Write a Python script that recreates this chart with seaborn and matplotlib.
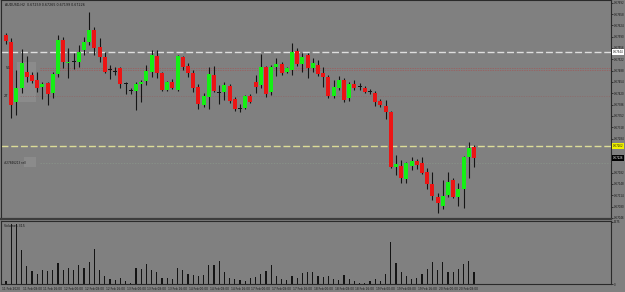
import numpy as np
import pandas as pd
import matplotlib
matplotlib.use("Agg")
import matplotlib.pyplot as plt
from matplotlib.patches import Rectangle
import seaborn as sns

# Chart header
SYMBOL = "AUDUSD,H2"

# OHLC per bar
opens = [0.67595, 0.67574, 0.67394, 0.67436, 0.67484, 0.67475, 0.67460, 0.67439, 0.67451, 0.67421,
         0.67478, 0.67580, 0.67511, 0.67514, 0.67514, 0.67550, 0.67574, 0.67610, 0.67559, 0.67529,
         0.67490, 0.67484, 0.67496, 0.67448, 0.67427, 0.67427, 0.67448, 0.67457, 0.67484, 0.67532,
         0.67481, 0.67430, 0.67454, 0.67430, 0.67529, 0.67502, 0.67481, 0.67439, 0.67385, 0.67409,
         0.67475, 0.67421, 0.67424, 0.67442, 0.67403, 0.67373, 0.67376, 0.67412, 0.67454, 0.67445,
         0.67499, 0.67424, 0.67499, 0.67508, 0.67484, 0.67490, 0.67547, 0.67508, 0.67535, 0.67496,
         0.67505, 0.67481, 0.67469, 0.67412, 0.67436, 0.67460, 0.67406, 0.67448, 0.67439, 0.67436,
         0.67424, 0.67421, 0.67397, 0.67382, 0.67364, 0.67199, 0.67202, 0.67163, 0.67202, 0.67217,
         0.67211, 0.67184, 0.67148, 0.67109, 0.67082, 0.67115, 0.67160, 0.67109, 0.67133, 0.67229,
         0.67259]
highs = [0.67601, 0.67586, 0.67490, 0.67553, 0.67532, 0.67484, 0.67484, 0.67454, 0.67454, 0.67484,
         0.67595, 0.67589, 0.67556, 0.67541, 0.67565, 0.67589, 0.67664, 0.67619, 0.67586, 0.67544,
         0.67505, 0.67499, 0.67499, 0.67454, 0.67436, 0.67454, 0.67460, 0.67505, 0.67550, 0.67550,
         0.67484, 0.67457, 0.67463, 0.67535, 0.67532, 0.67511, 0.67490, 0.67448, 0.67421, 0.67499,
         0.67502, 0.67445, 0.67454, 0.67448, 0.67409, 0.67388, 0.67415, 0.67418, 0.67475, 0.67538,
         0.67502, 0.67505, 0.67526, 0.67514, 0.67499, 0.67571, 0.67556, 0.67541, 0.67541, 0.67526,
         0.67520, 0.67499, 0.67475, 0.67460, 0.67472, 0.67466, 0.67454, 0.67460, 0.67451, 0.67442,
         0.67433, 0.67427, 0.67403, 0.67400, 0.67367, 0.67235, 0.67220, 0.67214, 0.67229, 0.67223,
         0.67229, 0.67196, 0.67184, 0.67121, 0.67160, 0.67184, 0.67166, 0.67151, 0.67232, 0.67274,
         0.67265]
lows = [0.67568, 0.67346, 0.67355, 0.67421, 0.67454, 0.67451, 0.67424, 0.67403, 0.67385, 0.67406,
        0.67469, 0.67496, 0.67466, 0.67493, 0.67499, 0.67535, 0.67565, 0.67535, 0.67514, 0.67481,
        0.67463, 0.67475, 0.67436, 0.67418, 0.67418, 0.67370, 0.67394, 0.67445, 0.67469, 0.67466,
        0.67427, 0.67427, 0.67433, 0.67427, 0.67490, 0.67469, 0.67424, 0.67373, 0.67379, 0.67373,
        0.67424, 0.67388, 0.67400, 0.67391, 0.67367, 0.67364, 0.67373, 0.67391, 0.67421, 0.67436,
        0.67409, 0.67415, 0.67472, 0.67475, 0.67481, 0.67475, 0.67502, 0.67484, 0.67466, 0.67484,
        0.67472, 0.67439, 0.67406, 0.67406, 0.67430, 0.67394, 0.67397, 0.67430, 0.67430, 0.67421,
        0.67418, 0.67382, 0.67379, 0.67343, 0.67196, 0.67175, 0.67151, 0.67151, 0.67190, 0.67193,
        0.67178, 0.67133, 0.67100, 0.67061, 0.67073, 0.67109, 0.67106, 0.67082, 0.67076, 0.67166,
        0.67199]
closes = [0.67577, 0.67385, 0.67436, 0.67511, 0.67469, 0.67457, 0.67436, 0.67448, 0.67418, 0.67478,
          0.67580, 0.67514, 0.67514, 0.67515, 0.67544, 0.67574, 0.67610, 0.67556, 0.67529, 0.67484,
          0.67489, 0.67485, 0.67448, 0.67447, 0.67428, 0.67448, 0.67454, 0.67487, 0.67535, 0.67481,
          0.67430, 0.67454, 0.67436, 0.67532, 0.67499, 0.67481, 0.67436, 0.67388, 0.67412, 0.67478,
          0.67427, 0.67420, 0.67445, 0.67397, 0.67373, 0.67374, 0.67412, 0.67394, 0.67439, 0.67499,
          0.67418, 0.67499, 0.67508, 0.67481, 0.67496, 0.67544, 0.67508, 0.67529, 0.67496, 0.67511,
          0.67478, 0.67469, 0.67412, 0.67439, 0.67460, 0.67400, 0.67448, 0.67436, 0.67438, 0.67424,
          0.67423, 0.67394, 0.67385, 0.67364, 0.67199, 0.67208, 0.67166, 0.67211, 0.67217, 0.67205,
          0.67181, 0.67148, 0.67112, 0.67091, 0.67112, 0.67154, 0.67109, 0.67133, 0.67229, 0.67256,
          0.67226]
volumes = [85, 1520, 1525, 875, 450, 335, 265, 350, 335, 365,
           535, 350, 415, 350, 470, 400, 565, 890, 365, 210,
           115, 100, 140, 65, 35, 410, 390, 500, 350, 300,
           140, 140, 115, 400, 350, 265, 225, 200, 240, 470,
           475, 585, 300, 140, 125, 100, 85, 140, 185, 265,
           325, 470, 200, 115, 100, 200, 165, 285, 300, 300,
           200, 185, 200, 135, 100, 235, 135, 85, 20, 35,
           65, 135, 85, 250, 1060, 535, 300, 200, 135, 150,
           265, 385, 560, 350, 565, 300, 300, 385, 500, 575,
           315]

# time axis labels (every 4th bar)
date_tick_bars = [0, 4, 8, 12, 16, 20, 24, 28, 32, 36, 40, 44, 48, 52, 56, 60, 64, 68, 72, 76, 80, 84, 88]
date_labels = ["11 Feb 2020", "11 Feb 08:00", "11 Feb 16:00", "12 Feb 00:00", "12 Feb 08:00",
               "12 Feb 16:00", "13 Feb 00:00", "13 Feb 08:00", "13 Feb 16:00", "14 Feb 00:00",
               "14 Feb 08:00", "14 Feb 16:00", "17 Feb 00:00", "17 Feb 08:00", "17 Feb 16:00",
               "18 Feb 00:00", "18 Feb 08:00", "18 Feb 16:00", "19 Feb 00:00", "19 Feb 08:00",
               "19 Feb 16:00", "20 Feb 00:00", "20 Feb 08:00"]

price_ticks = [0.67692, 0.67658, 0.67624, 0.67590, 0.67556, 0.67522, 0.67488, 0.67454, 0.67420,
               0.67386, 0.67352, 0.67318, 0.67284, 0.67182, 0.67148, 0.67114, 0.67080, 0.67046]

# horizontal levels drawn on the chart
level_white = 0.67544
levels_red = [0.67496, 0.67489]
level_red_low = 0.67412
level_yellow = 0.67262
level_order = 0.67211

BG = "#808080"
BULL = "#14f014"
BEAR = "#ec1414"
INK = "#141414"

sns.set_theme(style="white", rc={"axes.facecolor": BG, "figure.facecolor": BG,
                                 "savefig.facecolor": BG})
plt.rcParams["font.family"] = ["DejaVu Sans"]

W, H = 625, 292
fig = plt.figure(figsize=(W / 100, H / 100), dpi=100)

x0 = 1 / W
wx = 610 / W
ax = fig.add_axes([x0, 73 / H, wx, 219 / H])
vax = fig.add_axes([x0, 8 / H, wx, 63 / H])

df = pd.DataFrame({"o": opens, "h": highs, "l": lows, "c": closes, "v": volumes})
df["bar"] = np.arange(len(df))
xlim = (-0.96, -0.96 + 610 / 5.2)

# light panel behind the trade labels
fig.patches.append(Rectangle((17 / W, 1 - 102 / H), 19 / W, 40 / H, transform=fig.transFigure,
                             facecolor="#8b8b8b", edgecolor="none", zorder=0.5))
fig.patches.append(Rectangle((24 / W, 1 - 167 / H), 12 / W, 10 / H, transform=fig.transFigure,
                             facecolor="#8b8b8b", edgecolor="none", zorder=0.5))
ax.set_zorder(1)
ax.patch.set_alpha(0)

# price levels
ax.axhline(level_white, color="#dedede", lw=1.0, ls=(0, (5, 2)), zorder=1)
for lv in levels_red:
    ax.axhline(lv, xmin=39 / 610, color="#a05a5a", lw=0.5, ls=(0, (2, 1.5)), zorder=1)
ax.axhline(level_red_low, xmin=19 / 610, color="#8e6a6a", lw=0.5, ls=(0, (2, 1.5)), zorder=1)
ax.axhline(level_yellow, color="#dcdc98", lw=1.0, ls=(0, (5, 2)), zorder=1)
ax.axhline(level_order, xmin=39 / 610, color="#8a968a", lw=0.5, ls=(0, (2, 2)), zorder=1)

# candles
ax.vlines(df["bar"], df["l"], df["h"], color=INK, lw=0.8, zorder=2)
body_lo = np.minimum(df["o"], df["c"])
body_h = (df["c"] - df["o"]).abs()
doji = body_h < 0.000025
colors = np.where(df["c"] >= df["o"], BULL, BEAR)
colors = np.where(doji, INK, colors)
body_h = np.where(doji, 0.00003, body_h)
ax.bar(df["bar"], body_h, bottom=body_lo, width=0.78, color=colors, linewidth=0, zorder=3)

ax.set_xlim(*xlim)
ax.set_ylim(0.67043, 0.67700)
ax.set_xticks([])
ax.yaxis.tick_right()
ax.set_yticks(price_ticks)
ax.set_yticklabels([f"{p:.5f}" for p in price_ticks])
ax.tick_params(axis="y", labelsize=1.9, length=1.5, width=0.5, pad=0.6, colors=INK)
for side, sp in ax.spines.items():
    sp.set_color("#2a2a2a")
    sp.set_linewidth(0.8)
    sp.set_visible(True)
ax.spines["bottom"].set_color("#3c3c3c")
ax.spines["bottom"].set_linewidth(1.6)

# axis price boxes
box = dict(boxstyle="square,pad=0.2", linewidth=0)
for lv, face, ink in [(level_white, "white", INK), (level_yellow, "#f0f000", INK),
                      (closes[-1], "black", "white")]:
    ax.annotate(f"{lv:.5f}", xy=(1.0, lv), xycoords=("axes fraction", "data"),
                xytext=(1.2, 0), textcoords="offset points", fontsize=1.9, va="center",
                ha="left", color=ink, bbox={**box, "facecolor": face}, annotation_clip=False)

# header and trade labels
ax.text(4 / 610, 1 - 5 / 219, f"{SYMBOL}  {opens[-1]:.5f} {highs[-1]:.5f} {lows[-1]:.5f} {closes[-1]:.5f}",
        transform=ax.transAxes, fontsize=2.3, color=INK, va="center", ha="left")
ax.text(5 / 610, levels_red[0], "56", transform=ax.get_yaxis_transform(),
        fontsize=2.6, color=INK, va="center", ha="left")
ax.text(3 / 610, level_red_low, "27", transform=ax.get_yaxis_transform(),
        fontsize=2.6, color=INK, va="center", ha="left")
ax.text(3 / 610, level_order, "#27846213 sell", transform=ax.get_yaxis_transform(),
        fontsize=2.0, color=INK, va="center", ha="left")

# volume panel
vdf = df[["bar", "v"]]
sns.barplot(data=vdf, x="bar", y="v", native_scale=True, orient="x", width=0.22,
            color=INK, saturation=1, errorbar=None, linewidth=0, ax=vax)
vax.set_xlim(*xlim)
vax.set_ylim(0, 1600)
vax.set_xlabel("")
vax.set_ylabel("")
vax.yaxis.tick_right()
vax.set_yticks([0, 1575])
vax.set_yticklabels(["0", "1575"])
vax.tick_params(axis="y", labelsize=1.9, length=1.5, width=0.5, pad=0.6, colors=INK)
vax.set_xticks([b - 0.8 for b in date_tick_bars])
vax.set_xticklabels(date_labels, ha="left")
vax.tick_params(axis="x", labelsize=2.1, length=1.2, width=0.5, pad=0.8, colors=INK)
for side, sp in vax.spines.items():
    sp.set_color("#2a2a2a")
    sp.set_linewidth(0.8)
    sp.set_visible(True)
vax.text(3 / 610, 0.95, f"Volumes {volumes[-1]}", transform=vax.transAxes, fontsize=2.3,
         color=INK, va="top", ha="left")

fig.savefig("out.png", dpi=100, facecolor=BG)
